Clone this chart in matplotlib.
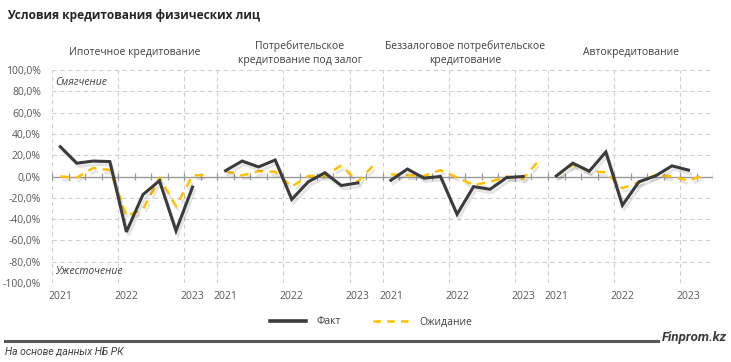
import matplotlib
matplotlib.use("Agg")
import matplotlib.pyplot as plt
import matplotlib.patheffects as pe
from matplotlib.lines import Line2D

# Quarterly survey values, % (2021 Q1 .. 2023 Q2), one list per segment
groups = [
    "Ипотечное кредитование",
    "Потребительское\nкредитование под залог",
    "Беззалоговое потребительское\nкредитование",
    "Автокредитование",
]
fact = [
    [28, 12.5, 14.5, 14, -52, -17, -4, -51, -10],
    [5.5, 14.5, 9, 15.5, -21.5, -5, 3.5, -8.5, -6],
    [-3.5, 7, -1.5, 0, -35.5, -9.5, -12, -1, 0],
    [0.5, 12.5, 5, 23, -27, -5, 0.5, 10, 6],
]
expect = [
    [0, -1, 8, 6, -37, -31, -1, -28, 1, 1.5],
    [5, 1, 5, 4.5, -9.5, 0.5, 0.5, 10.5, -5, 11.5],
    [2, 1, 0.5, 6, -1, -8, -5, 0, -2, 16],
    [0.5, 11, 5, 4, -11, -5.5, 1.5, 0, -4, 2],
]
year_labels = ["2021", "2022", "2023"]
year_slots = [0, 4, 8]
slots_per_group = 10

FACT_COLOR = "#3b3b3b"
EXP_COLOR = "#ffc000"
TEXT = "#404040"

plt.rcParams["font.family"] = ["Open Sans", "DejaVu Sans"]

fig = plt.figure(figsize=(7.31, 3.62), dpi=100)
W, H = 731, 362
ax = fig.add_axes([52 / W, (H - 283) / H, (713.3 - 52) / W, 213 / H])

n_total = slots_per_group * len(groups)
ax.set_xlim(0, n_total)
ax.set_ylim(-100, 100)

# grid
for y in range(-100, 101, 20):
    if y != 0:
        ax.axhline(y, color="#d0d0d0", lw=0.8, ls=(0, (4, 3)), zorder=0)
vgrid = []
for g in range(len(groups)):
    base = g * slots_per_group
    vgrid += [base + s for s in year_slots]
vgrid.append(n_total)
for x in vgrid:
    ax.axvline(x, color="#d0d0d0", lw=0.8, ls=(0, (4, 3)), zorder=0)

# zero axis with category ticks
ax.axhline(0, color="#9a9a9a", lw=1.0, zorder=1)
ax.vlines(range(n_total + 1), -3, 3, color="#9a9a9a", lw=0.9, zorder=1)

shadow = [pe.SimpleLineShadow(offset=(1.5, -2.5), shadow_color="black", alpha=0.1),
          pe.Normal()]

for g in range(len(groups)):
    base = g * slots_per_group
    xf = [base + i + 0.5 for i in range(len(fact[g]))]
    xe = [base + i + 0.5 for i in range(len(expect[g]))]
    ax.plot(xe, expect[g], color=EXP_COLOR, lw=1.8, ls=(0, (3.5, 2.5)),
            zorder=3, path_effects=shadow)
    ax.plot(xf, fact[g], color=FACT_COLOR, lw=2.2, zorder=4,
            solid_joinstyle="miter", path_effects=shadow)
    ax.text(base + slots_per_group / 2, 1.08, groups[g], transform=ax.get_xaxis_transform(),
            ha="center", va="center", fontsize=7.5, color=TEXT, linespacing=1.3)

xt, xl = [], []
for g in range(len(groups)):
    for s, lab in zip(year_slots, year_labels):
        xt.append(g * slots_per_group + s + 0.5)
        xl.append(lab)
ax.set_xticks(xt)
ax.set_xticklabels(xl)
ax.set_yticks(range(-100, 101, 20))
ax.set_yticklabels([f"{v},0%" for v in range(-100, 101, 20)])
ax.tick_params(axis="x", length=0, pad=6, labelsize=7.5, labelcolor="#595959")
ax.tick_params(axis="y", length=0, pad=8, labelsize=7.5, labelcolor="#595959")
for sp in ax.spines.values():
    sp.set_visible(False)

ax.text(0.2, 88, "Смягчение", fontsize=7.5, style="italic", color=TEXT, va="center")
ax.text(0.2, -89, "Ужесточение", fontsize=7.5, style="italic", color=TEXT, va="center")

# title
fig.text(7 / W, 1 - 15 / H, "Условия кредитования физических лиц", fontsize=8.6,
         fontweight="bold", color="#262626", va="center")

# legend
handles = [Line2D([], [], color=FACT_COLOR, lw=2.6),
           Line2D([], [], color=EXP_COLOR, lw=1.8, ls=(0, (3, 2.5)))]
fig.legend(handles, ["Факт", "Ожидание"], loc="center", bbox_to_anchor=(371 / W, 1 - 322 / H),
           ncol=2, frameon=False, fontsize=7.5, handlelength=3.45, handletextpad=1.0,
           columnspacing=3.1, labelcolor=TEXT)

# footer
fig.add_artist(Line2D([5 / W, 658 / W], [1 - 341 / H] * 2, color="#595959", lw=2.2))
fig.text(727 / W, 1 - 338 / H, "Finprom.kz", fontsize=9.5, style="italic", fontweight="bold",
         color="#3a3a3a", ha="right", va="center", family=["Roboto", "DejaVu Sans"])
fig.text(5 / W, 1 - 352 / H, "На основе данных НБ РК", fontsize=7.5, style="italic",
         color="#404040", va="center", family=["Roboto", "DejaVu Sans"])

fig.savefig("out.png", dpi=100)
